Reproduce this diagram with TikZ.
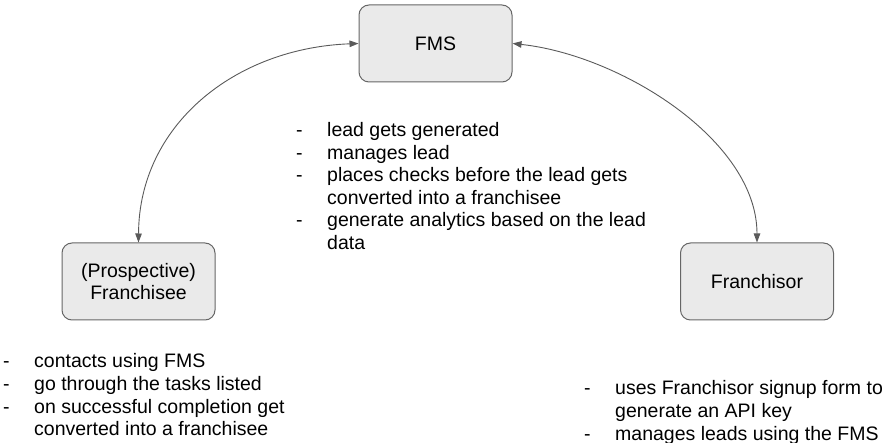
\documentclass[tikz,border=0pt]{standalone}
\usepackage{fontspec}
\setmainfont{Liberation Sans}
\usetikzlibrary{arrows.meta}
\definecolor{boxfill}{HTML}{EAEAEA}
\definecolor{boxline}{HTML}{666666}
\definecolor{arrline}{HTML}{5A5A5A}
\newcommand{\itemrows}[1]{\begin{tabular}[t]{@{}p{31pt}@{}l@{}}#1\end{tabular}}
\begin{document}
\begin{tikzpicture}[x=1pt,y=-1pt,
  box/.style={draw=boxline, fill=boxfill, line width=1pt, rounded corners=10pt,
    minimum width=153pt, minimum height=77pt, inner sep=0pt, align=center,
    font=\fontsize{19.5pt}{22pt}\selectfont},
  link/.style={draw=arrline, line width=0.9pt,
    {Triangle[length=9pt,width=6.5pt]}-{Triangle[length=9pt,width=6.5pt]}},
  notes/.style={anchor=base west, inner sep=0pt,
    font=\fontsize{19.5pt}{22.6pt}\selectfont}]
\useasboundingbox (0,0) rectangle (887,443);
\node[box] (fms) at (435.5,43.5) {FMS};
\node[box] (fre) at (138.5,281.5) {(Prospective)\\Franchisee};
\node[box] (fro) at (757,281.5) {Franchisor};
\draw[link] (fms.west) .. controls (235,48) and (139,125) .. (fre.north);
\draw[link] (fms.east) .. controls (620,55) and (757,140) .. (fro.north);
\node[notes] (mid) at (296,136.5) {\itemrows{
- & lead gets generated\\
- & manages lead\\
- & places checks before the lead gets\\
  & converted into a franchisee\\
- & generate analytics based on the lead\\
  & data}};
\node[notes] (left) at (3,368) {\itemrows{
- & contacts using FMS\\
- & go through the tasks listed\\
- & on successful completion get\\
  & converted into a franchisee}};
\node[notes] (right) at (584,395) {\itemrows{
- & uses Franchisor signup form to\\
  & generate an API key\\
- & manages leads using the FMS}};
\end{tikzpicture}
\end{document}
